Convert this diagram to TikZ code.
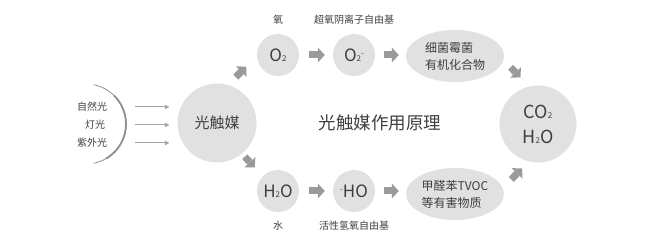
\documentclass[tikz,border=0pt]{standalone}
\usepackage{fontspec}
\setmainfont{Noto Sans CJK SC}
\usepackage{tikz}
\usetikzlibrary{arrows.meta,calc,positioning,shapes.geometric}
\definecolor{bubble}{HTML}{E1E1E1}
\definecolor{txt}{HTML}{3F3F3F}
\definecolor{pointer}{HTML}{9A9A9A}
\definecolor{beamgray}{HTML}{A5A5A5}
\definecolor{arcgray}{HTML}{8E8E8E}
\newcommand\dn[1]{{\fontsize{8}{8}\selectfont #1}}
\newcommand\up[1]{\raisebox{5pt}{\fontsize{8}{8}\selectfont #1}}
\tikzset{
  every node/.style={text=txt,inner sep=0pt},
  bub/.style={circle,fill=bubble,minimum size=42pt,font=\fontsize{17}{20}\selectfont},
  oval/.style={ellipse,fill=bubble,minimum width=98pt,minimum height=52pt,align=left,font=\fontsize{12}{17}\selectfont},
  lbl/.style={font=\fontsize{10}{12}\selectfont},
  blk/.style={draw=pointer,line width=7pt,-{Triangle[length=7pt,width=15pt,line width=0pt]}},
  ray/.style={draw=beamgray,line width=1pt,-{Triangle[length=4.5pt,width=4.5pt]}},
}

\begin{document}
\begin{tikzpicture}[x=1pt,y=-1pt,node distance=9pt]
  \useasboundingbox (0,0) rectangle (650,245);
  % light source
  \coordinate (src) at (86,124);
  \coordinate (beam) at (135,125);
  \draw[arcgray,line width=0.8pt] (src) ++(79:40pt) arc[start angle=79,end angle=-79,radius=40pt];
  \draw[arcgray,line width=1.8pt] (src) ++(45:40pt) arc[start angle=45,end angle=-60,radius=40pt];
  \node[lbl] (nat) at (92,107) {自然光};
  \node[lbl] (lamp) at (95,125) {灯光};
  \node[lbl] (uv) at (92,143) {紫外光};
  \node[bub,minimum size=79pt,font=\fontsize{15}{18}\selectfont] (cat) at (217,123) {光触媒};
  \foreach \s in {nat,lamp,uv}
    \draw[ray,shorten >=8pt] (beam |- \s) -- (\s -| cat.west);

  % upper branch
  \node[bub] (o2) at (278,55) {O\dn{2}};
  \node[bub] (o2m) at (354,55) {O\dn{2}\up{-}};
  \node[oval] (bact) at (455,56) {细菌霉菌\\有机化合物};
  \node[lbl,above=of o2] (lo2) {氧};
  \node[lbl,above=of o2m] (lo2m) {超氧阴离子自由基};

  % lower branch
  \node[bub] (h2o) at (278,191) {H\dn{2}O};
  \node[bub] (ho) at (354,191) {\up{-}HO};
  \node[oval] (voc) at (455,194) {甲醛苯TVOC\\等有害物质};
  \node[lbl,below=of h2o] (lh2o) {水};
  \node[lbl,below=of ho] (lho) {活性氢氧自由基};

  \node[bub,minimum size=77pt,align=center,font=\fontsize{18}{25}\selectfont] (out) at (538,124) {CO\dn{2}\\H\dn{2}O};
  \node[font=\fontsize{17.5}{20}\selectfont] (ttl) at (380,123) {光触媒作用原理};

  % block arrows
  \draw[blk,shorten <=11pt,shorten >=15pt] (cat.74) -- (o2.183);
  \draw[blk,shorten <=4pt,shorten >=12pt] (cat.-51) -- (h2o.135);
  \draw[blk,shorten <=10pt,shorten >=8pt] (o2.east) -- (o2m.west);
  \draw[blk,shorten <=9pt,shorten >=7pt] (o2m.east) -- (o2m.east -| bact.west);
  \draw[blk,shorten <=10pt,shorten >=8pt] (h2o.east) -- (ho.west);
  \draw[blk,shorten <=9pt,shorten >=7pt] (ho.east) -- (ho.east -| voc.west);
  \draw[blk,shorten <=10pt,shorten >=12.5pt] (bact.-5) -- (out.103);
  \draw[blk,shorten <=12pt,shorten >=9.5pt] (voc.7) -- (out.-104);
\end{tikzpicture}
\end{document}
